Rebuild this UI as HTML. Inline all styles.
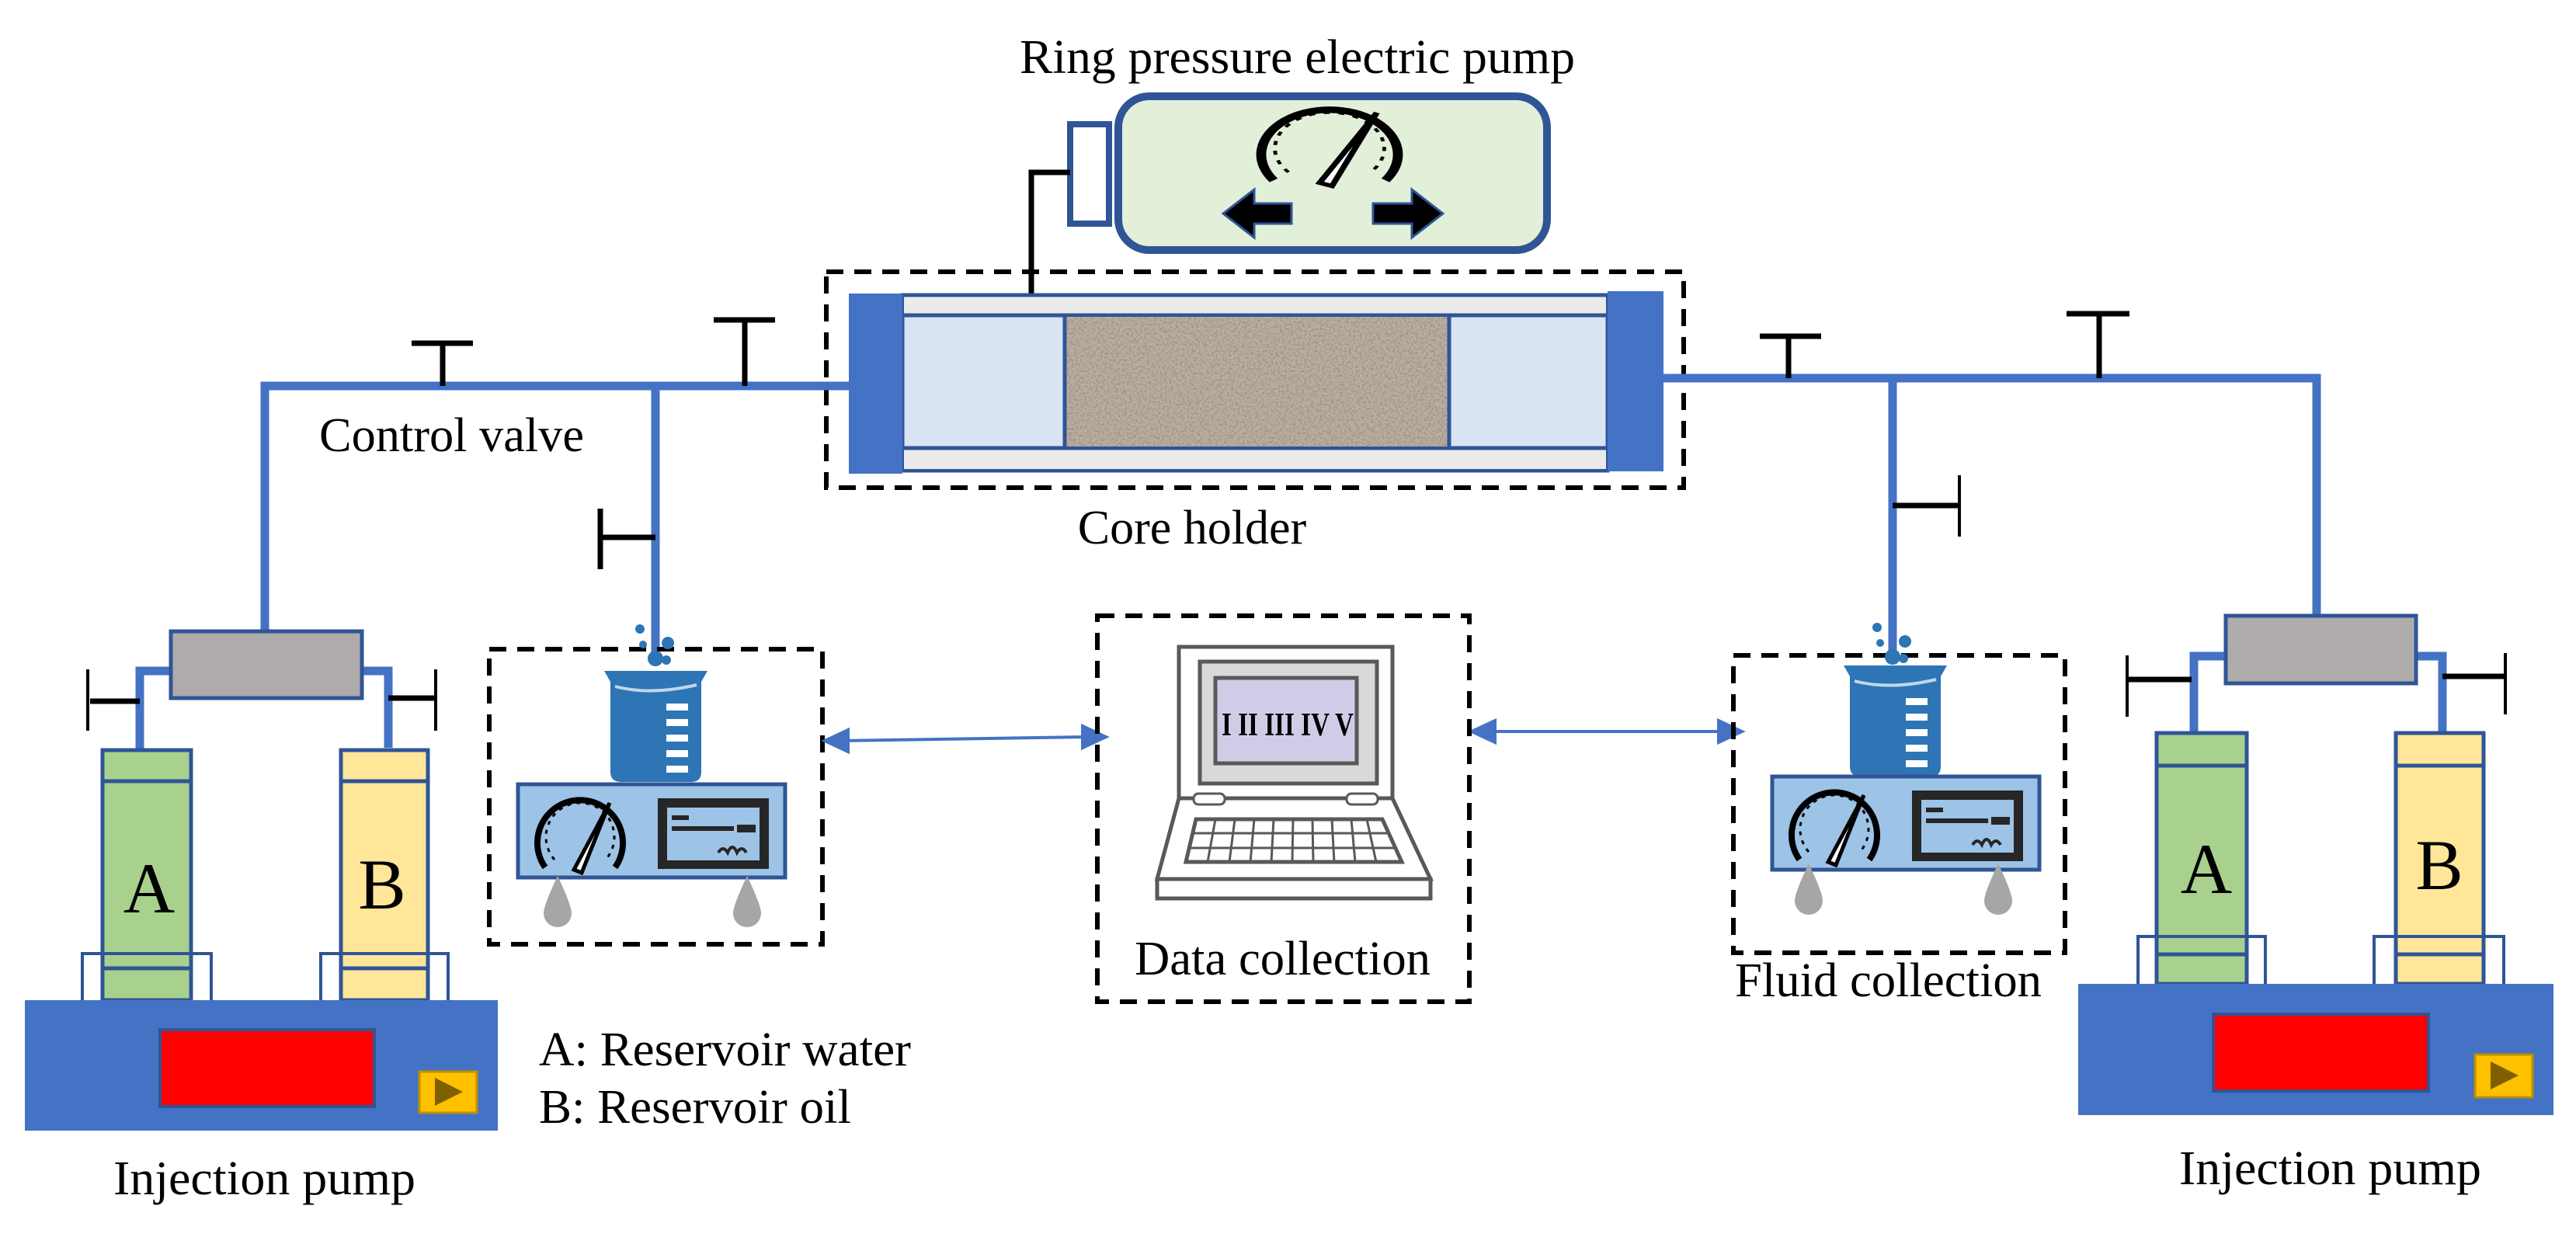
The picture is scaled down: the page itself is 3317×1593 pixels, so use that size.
<!DOCTYPE html>
<html><head><meta charset="utf-8"><style>
html,body{margin:0;padding:0;background:#fff}
svg{display:block}
svg text{font-family:"Liberation Serif","DejaVu Serif",serif !important;fill:#000}
</style></head><body>
<svg width="3317" height="1593" viewBox="0 0 3317 1593" xmlns="http://www.w3.org/2000/svg" font-family="Liberation Serif, DejaVu Serif, serif">
<defs>
<filter id="rock" x="0" y="0" width="1" height="1">
<feTurbulence type="fractalNoise" baseFrequency="0.35" numOctaves="2" seed="3"/>
<feColorMatrix type="matrix" values="0 0 0 0 0.35  0 0 0 0 0.3  0 0 0 0 0.26  0 0 0 3 -1.2"/>
<feComposite in2="SourceGraphic" operator="in"/>
</filter>
<g id="gauge">
<path d="M-45,45 A55,55 0 1 1 45,45" fill="none" stroke="#000" stroke-width="8"/>
<path d="M-33,35 A44,44 0 1 1 33,35" fill="none" stroke="#000" stroke-width="3" stroke-dasharray="5 7"/>
<path d="M-8,48 L38,-38 L2,52 Z" fill="#fff" stroke="#000" stroke-width="5"/>
</g>
<g id="instr">
<rect x="0" y="0" width="344" height="120" fill="#9DC3E6" stroke="#2F5597" stroke-width="5"/>
<rect x="180" y="18" width="143" height="91" fill="#262626"/>
<rect x="192" y="30" width="119" height="68" fill="#9DC3E6"/>
<rect x="198" y="40" width="22" height="6" fill="#262626"/>
<rect x="198" y="54" width="80" height="6" fill="#262626"/>
<rect x="282" y="52" width="24" height="10" fill="#262626"/>
<path d="M258,88 q6,-10 12,0 q6,-14 12,0 q6,-10 12,0" fill="none" stroke="#262626" stroke-width="4"/>
<use href="#gauge" x="80" y="62"/>
</g>
<g id="beaker">
<path d="M0,0 L133,0 L125,14 L125,130 Q125,143 112,143 L22,143 Q8,143 8,130 L8,14 Z" fill="#2E75B6"/>
<path d="M14,20 Q60,32 119,18" fill="none" stroke="#BDD7EE" stroke-width="4"/>
<g fill="#fff"><rect x="80" y="42" width="28" height="9"/><rect x="80" y="62" width="28" height="9"/><rect x="80" y="82" width="28" height="9"/><rect x="80" y="102" width="28" height="9"/><rect x="80" y="122" width="28" height="9"/></g>
</g>
<g id="drop"><path d="M0,0 Q-18,38 -18,48 A18,18 0 0 0 18,48 Q18,38 0,0 Z" fill="#A6A6A6"/></g>
<g id="bubbles" fill="#2E75B6"><circle cx="-20" cy="0" r="6"/><circle cx="-16" cy="20" r="5"/><circle cx="16" cy="18" r="8"/><circle cx="0" cy="38" r="10"/><circle cx="14" cy="40" r="6"/></g>
</defs>

<!-- Ring pressure pump -->
<text x="1313" y="94" font-size="62" textLength="715" lengthAdjust="spacingAndGlyphs">Ring pressure electric pump</text>
<rect x="1440" y="124" width="552" height="198" rx="40" fill="#E2F0D9" stroke="#2F5597" stroke-width="10"/>
<rect x="1378" y="160" width="50" height="128" fill="#fff" stroke="#2F5597" stroke-width="8"/>
<g transform="translate(1712,185) scale(1.6,1.05)"><use href="#gauge"/></g>
<path d="M1575,275 L1615,244 L1615,262 L1663,262 L1663,288 L1615,288 L1615,306 Z" fill="#000" stroke="#2F5597" stroke-width="3"/>
<path d="M1858,275 L1818,244 L1818,262 L1768,262 L1768,288 L1818,288 L1818,306 Z" fill="#000" stroke="#2F5597" stroke-width="3"/>
<path d="M1378,222 L1328,222 L1328,380" fill="none" stroke="#000" stroke-width="7"/>

<!-- Core holder -->
<rect x="1064" y="350" width="1104" height="278" fill="none" stroke="#000" stroke-width="6" stroke-dasharray="22 14"/>
<rect x="1162" y="380" width="908" height="226" fill="#fff" stroke="#2F5597" stroke-width="5"/>
<rect x="1164" y="383" width="904" height="23" fill="#EBEBEB"/>
<rect x="1164" y="578" width="904" height="26" fill="#EBEBEB"/>
<rect x="1162" y="406" width="908" height="171" fill="#DAE3F3" stroke="#2F5597" stroke-width="5"/>
<rect x="1371" y="408" width="495" height="167" fill="#BCAE9F"/>
<rect x="1371" y="408" width="495" height="167" fill="#fff" filter="url(#rock)"/>
<line x1="1371" y1="406" x2="1371" y2="577" stroke="#2F5597" stroke-width="5"/>
<line x1="1866" y1="406" x2="1866" y2="577" stroke="#2F5597" stroke-width="5"/>
<rect x="1093" y="378" width="69" height="232" fill="#4472C4"/>
<rect x="2070" y="375" width="72" height="232" fill="#4472C4"/>
<text x="1535" y="700" font-size="62" text-anchor="middle">Core holder</text>

<!-- Left piping -->
<g stroke="#4472C4" stroke-width="11" fill="none">
<path d="M1149,497 L341,497 L341,815"/>
<path d="M844,497 L844,848"/>
<path d="M220,864 L180,864 L180,968"/>
<path d="M466,864 L500,864 L500,963"/>
</g>
<g stroke="#000" stroke-width="7" fill="none">
<path d="M530,442 L609,442 M570,442 L570,497"/>
<path d="M919,412 L998,412 M959,412 L959,497"/>
<path d="M773,692 L844,692 M773,655 L773,733"/>
<path d="M180,903 L116,903"/>
<path d="M500,899 L561,899"/>
</g>
<g stroke="#000" stroke-width="4"><line x1="113" y1="862" x2="113" y2="941"/><line x1="561" y1="862" x2="561" y2="941"/></g>
<text x="411" y="581" font-size="62" textLength="341" lengthAdjust="spacingAndGlyphs">Control valve</text>
<rect x="220" y="813" width="246" height="86" fill="#AFABAB" stroke="#2F5597" stroke-width="5"/>

<!-- Left injection pump -->
<rect x="132" y="966" width="114" height="322" fill="#A9D18E" stroke="#2F5597" stroke-width="5"/>
<line x1="132" y1="1006" x2="246" y2="1006" stroke="#2F5597" stroke-width="5"/>
<line x1="132" y1="1247" x2="246" y2="1247" stroke="#2F5597" stroke-width="5"/>
<rect x="106" y="1228" width="166" height="66" fill="none" stroke="#2F5597" stroke-width="4"/>
<rect x="439" y="966" width="112" height="322" fill="#FFE699" stroke="#2F5597" stroke-width="5"/>
<line x1="439" y1="1006" x2="551" y2="1006" stroke="#2F5597" stroke-width="5"/>
<line x1="439" y1="1247" x2="551" y2="1247" stroke="#2F5597" stroke-width="5"/>
<rect x="413" y="1228" width="164" height="66" fill="none" stroke="#2F5597" stroke-width="4"/>
<text x="192" y="1175" font-size="92" text-anchor="middle">A</text>
<text x="492" y="1170" font-size="92" text-anchor="middle">B</text>
<rect x="32" y="1288" width="609" height="168" fill="#4472C4"/>
<rect x="206" y="1326" width="276" height="99" fill="#FF0000" stroke="#2F5597" stroke-width="4"/>
<rect x="540" y="1380" width="74" height="53" fill="#FFC000" stroke="#BF9000" stroke-width="3"/>
<path d="M560,1388 L596,1406 L560,1424 Z" fill="#7F6000"/>
<text x="694" y="1372" font-size="62" textLength="479" lengthAdjust="spacingAndGlyphs">A: Reservoir water</text>
<text x="694" y="1446" font-size="62" textLength="402" lengthAdjust="spacingAndGlyphs">B: Reservoir oil</text>
<text x="146" y="1538" font-size="62" textLength="389" lengthAdjust="spacingAndGlyphs">Injection pump</text>

<!-- Left beaker station -->
<rect x="630" y="836" width="429" height="380" fill="none" stroke="#000" stroke-width="6" stroke-dasharray="22 14"/>
<use href="#bubbles" x="844" y="810"/>
<use href="#beaker" x="778" y="864"/>
<use href="#instr" x="667" y="1010"/>
<use href="#drop" x="718" y="1128"/>
<use href="#drop" x="962" y="1128"/>

<!-- arrows -->
<g stroke="#4472C4" stroke-width="4" fill="#4472C4">
<line x1="1080" y1="954" x2="1400" y2="949"/>
<path d="M1062,954 L1092,940 L1092,968 Z"/>
<path d="M1424,949 L1394,935 L1394,963 Z"/>
<line x1="1915" y1="942" x2="2220" y2="942"/>
<path d="M1895,942 L1925,928 L1925,956 Z"/>
<path d="M2243,942 L2213,928 L2213,956 Z"/>
</g>

<!-- Data collection -->
<rect x="1413" y="793" width="479" height="497" fill="none" stroke="#000" stroke-width="6" stroke-dasharray="22 14"/>
<g fill="none" stroke="#595959" stroke-width="5">
<rect x="1518" y="833" width="275" height="195" fill="#fff"/>
<rect x="1545" y="852" width="228" height="157" fill="#D9D9D9"/>
<rect x="1565" y="873" width="182" height="110" fill="#D0CCE8"/>
<path d="M1518,1028 L1490,1132 L1842,1132 L1793,1028 Z" fill="#fff"/>
<rect x="1490" y="1132" width="352" height="25" fill="#fff"/>
<path d="M1540,1055 L1780,1055 L1805,1110 L1527,1110 Z"/>
<path d="M1536,1073 L1790,1073 M1532,1092 L1798,1092 M1565,1055 L1555,1110 M1590,1055 L1583,1110 M1615,1055 L1610,1110 M1640,1055 L1637,1110 M1665,1055 L1664,1110 M1690,1055 L1691,1110 M1715,1055 L1718,1110 M1740,1055 L1745,1110 M1760,1055 L1772,1110" stroke-width="3"/>
<rect x="1537" y="1022" width="40" height="14" rx="6" stroke-width="3" fill="#fff"/>
<rect x="1734" y="1022" width="40" height="14" rx="6" stroke-width="3" fill="#fff"/>
</g>
<text x="1573" y="947" font-size="42" font-weight="bold" fill="#222" textLength="170" lengthAdjust="spacingAndGlyphs">I II III IV V</text>
<text x="1461" y="1255" font-size="62" textLength="381" lengthAdjust="spacingAndGlyphs">Data collection</text>

<!-- Right piping -->
<g stroke="#4472C4" stroke-width="11" fill="none">
<path d="M2142,487 L2983,487 L2983,793"/>
<path d="M2437,487 L2437,846"/>
<path d="M2866,845 L2825,845 L2825,946"/>
<path d="M3111,845 L3145,845 L3145,943"/>
</g>
<g stroke="#000" stroke-width="7" fill="none">
<path d="M2266,433 L2345,433 M2303,433 L2303,487"/>
<path d="M2661,404 L2742,404 M2703,404 L2703,487"/>
<path d="M2437,651 L2523,651"/>
<path d="M2739,875 L2822,875"/>
<path d="M3145,871 L3226,871"/>
</g>
<g stroke="#000" stroke-width="4"><line x1="2523" y1="612" x2="2523" y2="691"/><line x1="2739" y1="844" x2="2739" y2="923"/><line x1="3226" y1="841" x2="3226" y2="920"/></g>
<rect x="2866" y="793" width="245" height="87" fill="#AFABAB" stroke="#2F5597" stroke-width="5"/>

<!-- Fluid collection -->
<rect x="2232" y="844" width="427" height="383" fill="none" stroke="#000" stroke-width="6" stroke-dasharray="22 14"/>
<use href="#bubbles" x="2437" y="808"/>
<use href="#beaker" x="2374" y="857"/>
<use href="#instr" x="2282" y="1000"/>
<use href="#drop" x="2329" y="1112"/>
<use href="#drop" x="2573" y="1112"/>
<text x="2234" y="1283" font-size="62" textLength="395" lengthAdjust="spacingAndGlyphs">Fluid collection</text>

<!-- Right injection pump -->
<rect x="2777" y="944" width="116" height="323" fill="#A9D18E" stroke="#2F5597" stroke-width="5"/>
<line x1="2777" y1="986" x2="2893" y2="986" stroke="#2F5597" stroke-width="5"/>
<line x1="2777" y1="1229" x2="2893" y2="1229" stroke="#2F5597" stroke-width="5"/>
<rect x="2753" y="1206" width="164" height="66" fill="none" stroke="#2F5597" stroke-width="4"/>
<rect x="3085" y="944" width="113" height="323" fill="#FFE699" stroke="#2F5597" stroke-width="5"/>
<line x1="3085" y1="986" x2="3198" y2="986" stroke="#2F5597" stroke-width="5"/>
<line x1="3085" y1="1229" x2="3198" y2="1229" stroke="#2F5597" stroke-width="5"/>
<rect x="3057" y="1206" width="167" height="66" fill="none" stroke="#2F5597" stroke-width="4"/>
<text x="2841" y="1150" font-size="92" text-anchor="middle">A</text>
<text x="3141" y="1145" font-size="92" text-anchor="middle">B</text>
<rect x="2676" y="1267" width="612" height="169" fill="#4472C4"/>
<rect x="2850" y="1306" width="277" height="99" fill="#FF0000" stroke="#2F5597" stroke-width="4"/>
<rect x="3187" y="1358" width="74" height="55" fill="#FFC000" stroke="#BF9000" stroke-width="3"/>
<path d="M3207,1367 L3243,1385 L3207,1403 Z" fill="#7F6000"/>
<text x="2806" y="1525" font-size="62" textLength="389" lengthAdjust="spacingAndGlyphs">Injection pump</text>
</svg>
</body></html>
